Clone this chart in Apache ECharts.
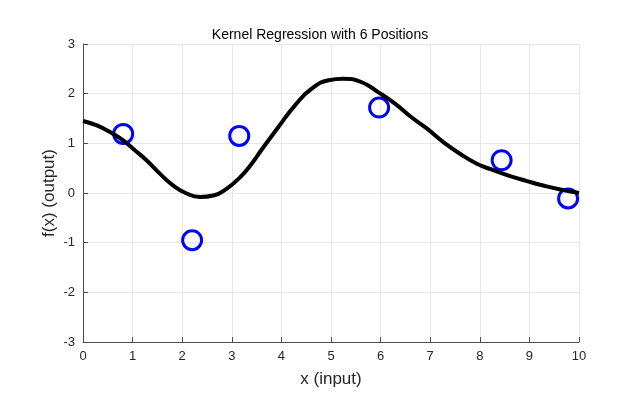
<!DOCTYPE html>
<html>
<head>
<meta charset="utf-8">
<script src="https://cdn.jsdelivr.net/npm/echarts@6/dist/echarts.min.js"></script>
<style>html,body{margin:0;padding:0;background:#fff}#c{width:640px;height:400px}</style>
</head>
<body>
<div id="c"></div>
<script>
const titleText = 'Kernel Regression with 6 Positions';
const xName = 'x (input)';
const yName = 'f(x) (output)';
const pointX = [0.81, 2.20, 3.15, 5.97, 8.44, 9.78];
const pointY = [1.19, -0.95, 1.15, 1.72, 0.66, -0.11];
const curveX = [0, 0.28, 0.61, 0.81, 1.01, 1.28, 1.55, 1.82, 2.09, 2.36, 2.63, 2.90, 3.17, 3.37, 3.60, 3.94, 4.27, 4.61, 4.95, 5.25, 5.62, 5.95, 6.29, 6.59, 6.93, 7.26, 7.60, 7.94, 8.27, 8.61, 8.95, 9.28, 9.62, 10];
const curveY = [1.45, 1.36, 1.19, 1.06, 0.89, 0.66, 0.39, 0.15, -0.01, -0.08, -0.05, 0.09, 0.32, 0.55, 0.87, 1.33, 1.76, 2.10, 2.27, 2.30, 2.23, 2.03, 1.80, 1.55, 1.30, 1.03, 0.79, 0.59, 0.46, 0.34, 0.24, 0.15, 0.07, 0.0];

const chart = echarts.init(document.getElementById('c'), null, {renderer: 'canvas'});
const font = 'Liberation Sans, Arial, sans-serif';
chart.setOption({
  animation: false,
  backgroundColor: '#fff',
  title: {text: titleText, left: 'center', top: 23, textStyle: {fontFamily: font, fontSize: 14, fontWeight: 'normal', color: '#000'}},
  grid: {left: 83, right: 61, top: 44, bottom: 58},
  xAxis: {
    type: 'value', min: 0, max: 10, interval: 1,
    name: xName, nameLocation: 'middle', nameGap: 29,
    nameTextStyle: {fontFamily: font, fontSize: 17, color: '#262626'},
    axisLine: {onZero: false, lineStyle: {color: '#4d4d4d', width: 1}},
    axisTick: {inside: true, length: 5, lineStyle: {color: '#4d4d4d'}},
    axisLabel: {fontFamily: font, fontSize: 13, color: '#262626', margin: 8},
    splitLine: {show: true, lineStyle: {color: '#e6e6e6', width: 1}}
  },
  yAxis: {
    type: 'value', min: -3, max: 3, interval: 1,
    name: yName, nameLocation: 'middle', nameGap: 25, nameMoveOverlap: false,
    nameTextStyle: {fontFamily: font, fontSize: 17, color: '#262626'},
    axisLine: {show: true, onZero: false, lineStyle: {color: '#4d4d4d', width: 1}},
    axisTick: {show: true, inside: true, length: 5, lineStyle: {color: '#4d4d4d'}},
    axisLabel: {fontFamily: font, fontSize: 13, color: '#262626', margin: 8},
    splitLine: {show: true, lineStyle: {color: '#e6e6e6', width: 1}}
  },
  series: [
    {
      type: 'scatter', z: 2,
      data: pointX.map((x, i) => [x, pointY[i]]),
      symbol: 'circle', symbolSize: 19,
      itemStyle: {color: 'rgba(0,0,0,0)', borderColor: '#0000ff', borderWidth: 3, opacity: 1},
      emphasis: {disabled: true}
    },
    {
      type: 'line', z: 3,
      data: curveX.map((x, i) => [x, curveY[i]]),
      smooth: 0.5, showSymbol: false,
      lineStyle: {color: '#000', width: 4},
      emphasis: {disabled: true}
    }
  ]
});
</script>
</body>
</html>
